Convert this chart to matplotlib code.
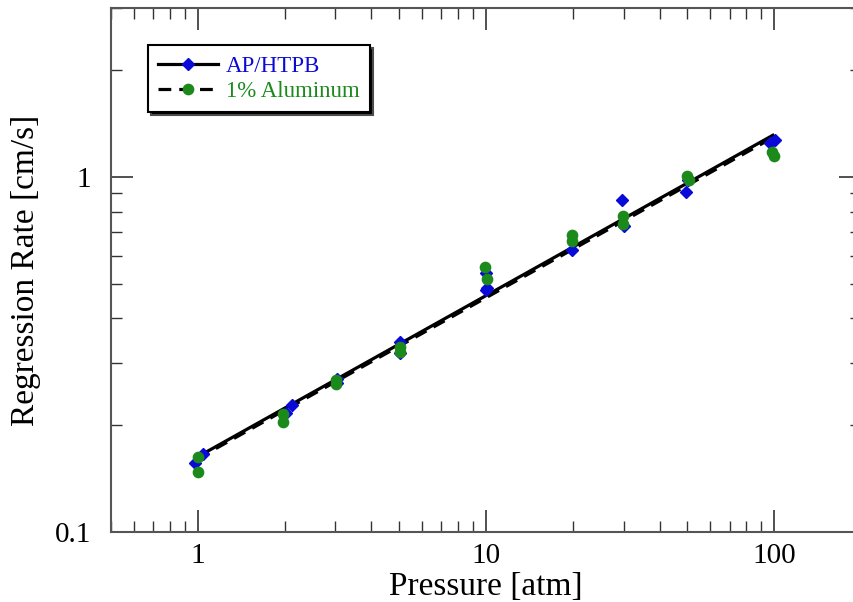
import matplotlib
matplotlib.use("Agg")
import matplotlib.pyplot as plt
from matplotlib.lines import Line2D
from matplotlib.ticker import FixedLocator, LogLocator, NullFormatter, FuncFormatter

# AP/HTPB (blue diamonds)
p_ap = [0.98, 1.04, 2.03, 2.12, 3.03, 3.03, 5.05, 5.05, 10.0, 10.1, 10.0,
        19.8, 29.7, 30.2, 49.5, 50.3, 97.0, 100.5]
r_ap = [0.156, 0.166, 0.216, 0.228, 0.270, 0.263, 0.343, 0.319, 0.537, 0.487, 0.480,
        0.623, 0.865, 0.727, 0.907, 0.980, 1.247, 1.270]

# 1% Aluminum (green circles)
p_al = [1.0, 1.0, 1.98, 1.98, 3.02, 3.02, 5.05, 5.05, 9.9, 10.1,
        19.9, 19.9, 29.8, 29.8, 49.8, 50.5, 98.5, 99.5]
r_al = [0.163, 0.148, 0.215, 0.204, 0.268, 0.261, 0.332, 0.322, 0.559, 0.516,
        0.687, 0.660, 0.776, 0.737, 1.005, 0.985, 1.176, 1.150]

# power-law fit lines (end points)
fit_p = [1.0, 100.0]
fit_ap = [0.163, 1.32]
fit_al = [0.161, 1.30]

labels = ["AP/HTPB", "1% Aluminum"]
blue = "#0a0ad8"
green = "#1b8a1b"

plt.rcParams["font.family"] = ["Liberation Serif", "DejaVu Serif"]

fig = plt.figure(figsize=(8.54, 6.02), dpi=100)
ax = fig.add_axes([111 / 854, 70 / 602, 750 / 854, 524 / 602])

ax.plot(fit_p, fit_ap, color="black", lw=2.3, solid_capstyle="butt", zorder=2)
ax.plot(fit_p, fit_al, color="black", lw=2.3, dashes=(4, 2.5), zorder=2)
ax.plot(p_ap, r_ap, ls="none", marker="D", ms=6.5, color=blue, zorder=3)
ax.plot(p_al, r_al, ls="none", marker="o", ms=7.4, color=green, zorder=4)

ax.set_xscale("log")
ax.set_yscale("log")
ax.set_xlim(0.5, 200)
ax.set_ylim(0.1, 3)

fmt = FuncFormatter(lambda v, pos: f"{v:g}")
ax.xaxis.set_major_locator(FixedLocator([1, 10, 100]))
ax.yaxis.set_major_locator(FixedLocator([0.1, 1]))
ax.xaxis.set_major_formatter(fmt)
ax.yaxis.set_major_formatter(fmt)
ax.xaxis.set_minor_locator(LogLocator(base=10, subs=range(2, 10)))
ax.yaxis.set_minor_locator(LogLocator(base=10, subs=range(2, 10)))
ax.xaxis.set_minor_formatter(NullFormatter())
ax.yaxis.set_minor_formatter(NullFormatter())

ax.tick_params(which="both", direction="in", top=True, right=True, color="#333333")
ax.tick_params(which="major", length=16, width=1.2, labelsize=21)
ax.tick_params(which="minor", length=8, width=1.0)
ax.tick_params(axis="x", which="major", pad=8)
ax.tick_params(axis="y", which="major", pad=14)
for s in ax.spines.values():
    s.set_color("#555555")
    s.set_linewidth(1.5)

ax.set_xlabel("Pressure [atm]", fontsize=24, labelpad=2)
ax.set_ylabel("Regression Rate [cm/s]", fontsize=24, labelpad=10)

handles = [
    Line2D([], [], color="black", lw=2.3, marker="D", ms=6.5, mfc=blue, mec=blue),
    Line2D([], [], color="black", lw=2.3, dashes=(4, 2.5), marker="o", ms=7.4,
           mfc=green, mec=green),
]
leg = ax.legend(handles, labels, loc="upper left", bbox_to_anchor=(0.049, 0.929),
                borderaxespad=0, fontsize=16.5, numpoints=1, handlelength=2.6,
                handletextpad=0.35, labelspacing=0.2, borderpad=0.45,
                fancybox=False, framealpha=1, edgecolor="black",
                shadow={"facecolor": "black", "alpha": 1})
leg.get_frame().set_linewidth(1.5)
for txt, c in zip(leg.get_texts(), [blue, green]):
    txt.set_color(c)

fig.savefig("out.png", dpi=100)
